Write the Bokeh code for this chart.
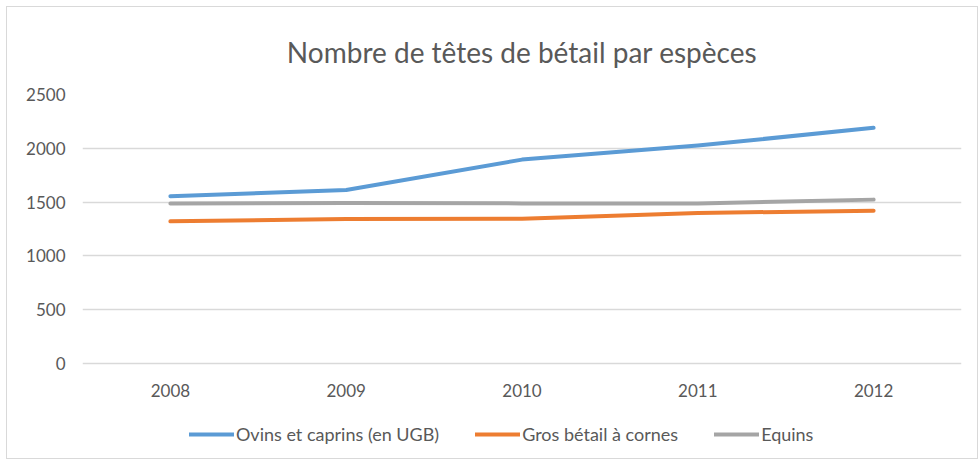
from bokeh.plotting import figure
from bokeh.models import Legend, LegendItem, FactorRange, Range1d, FixedTicker, ColumnDataSource
from bokeh.core.properties import value
from bokeh.embed import file_html
from bokeh.resources import INLINE

years = ["2008", "2009", "2010", "2011", "2012"]
ovins = [1555, 1612, 1895, 2025, 2190]
gros_betail = [1321, 1343, 1346, 1399, 1420]
equins = [1486, 1492, 1488, 1488, 1523]
series_names = ["Ovins et caprins (en UGB)", "Gros bétail à cornes", "Equins"]
colors = ["#5B9BD5", "#ED7D31", "#A5A5A5"]
y_ticks = [0, 500, 1000, 1500, 2000, 2500]
title_text = "Nombre de têtes de bétail par espèces"

FONT = "Lato"
TXT = "#595959"

# layout (pixels)
PLOT_H = 269            # height of the 0..2500 band
EXTRA_H = 91            # space under the 0 line for year labels + legend
px_per_unit = PLOT_H / y_ticks[-1]
y_start = -EXTRA_H / px_per_unit
label_y = -27 / px_per_unit

p = figure(x_range=FactorRange(*years), y_range=Range1d(y_start, y_ticks[-1]),
           frame_width=879, frame_height=PLOT_H + EXTRA_H,
           output_backend="svg", toolbar_location=None,
           min_border_left=75, min_border_right=16, min_border_top=87,
           min_border_bottom=4, title=title_text)
p.styles = {"border": "1px solid #D9D9D9", "margin": "6px 0 0 6px"}

p.title.align = "center"
p.title.text_font = FONT
p.title.text_font_size = "28px"
p.title.text_font_style = "normal"
p.title.text_color = TXT
p.title.standoff = 51 + EXTRA_H * 0

p.outline_line_color = None
p.xgrid.grid_line_color = None
p.ygrid.grid_line_color = "#D9D9D9"
p.ygrid.grid_line_width = 1.5

p.xaxis.visible = False
p.yaxis.ticker = FixedTicker(ticks=y_ticks)
ax = p.yaxis[0]
ax.axis_line_color = None
ax.major_tick_line_color = None
ax.minor_tick_line_color = None
ax.major_tick_out = 0
ax.major_label_text_font = FONT
ax.major_label_text_font_size = "17px"
ax.major_label_text_color = TXT
ax.major_label_standoff = 17

# year labels drawn through the x scale
lab_src = ColumnDataSource(dict(x=years, y=[label_y] * len(years), t=years))
p.text(x="x", y="y", text="t", source=lab_src, text_align="center", text_baseline="middle",
       text_font=value(FONT), text_font_size="17px", text_color=TXT)

renderers = []
for vals, c in zip([ovins, gros_betail, equins], colors):
    r = p.line(years, vals, line_width=4, line_color=c, line_cap="round", line_join="round")
    renderers.append(r)

legend = Legend(items=[LegendItem(label=n, renderers=[r]) for n, r in zip(series_names, renderers)],
                orientation="horizontal", location=(107, 9),
                border_line_color=None, background_fill_alpha=0,
                padding=0, margin=0,
                glyph_width=45, glyph_height=20, label_standoff=2, spacing=36,
                label_height=20,
                label_text_font=FONT, label_text_color=TXT, label_text_font_size="18px")
p.add_layout(legend, "center")

open("out.html", "w").write(file_html(p, INLINE))
